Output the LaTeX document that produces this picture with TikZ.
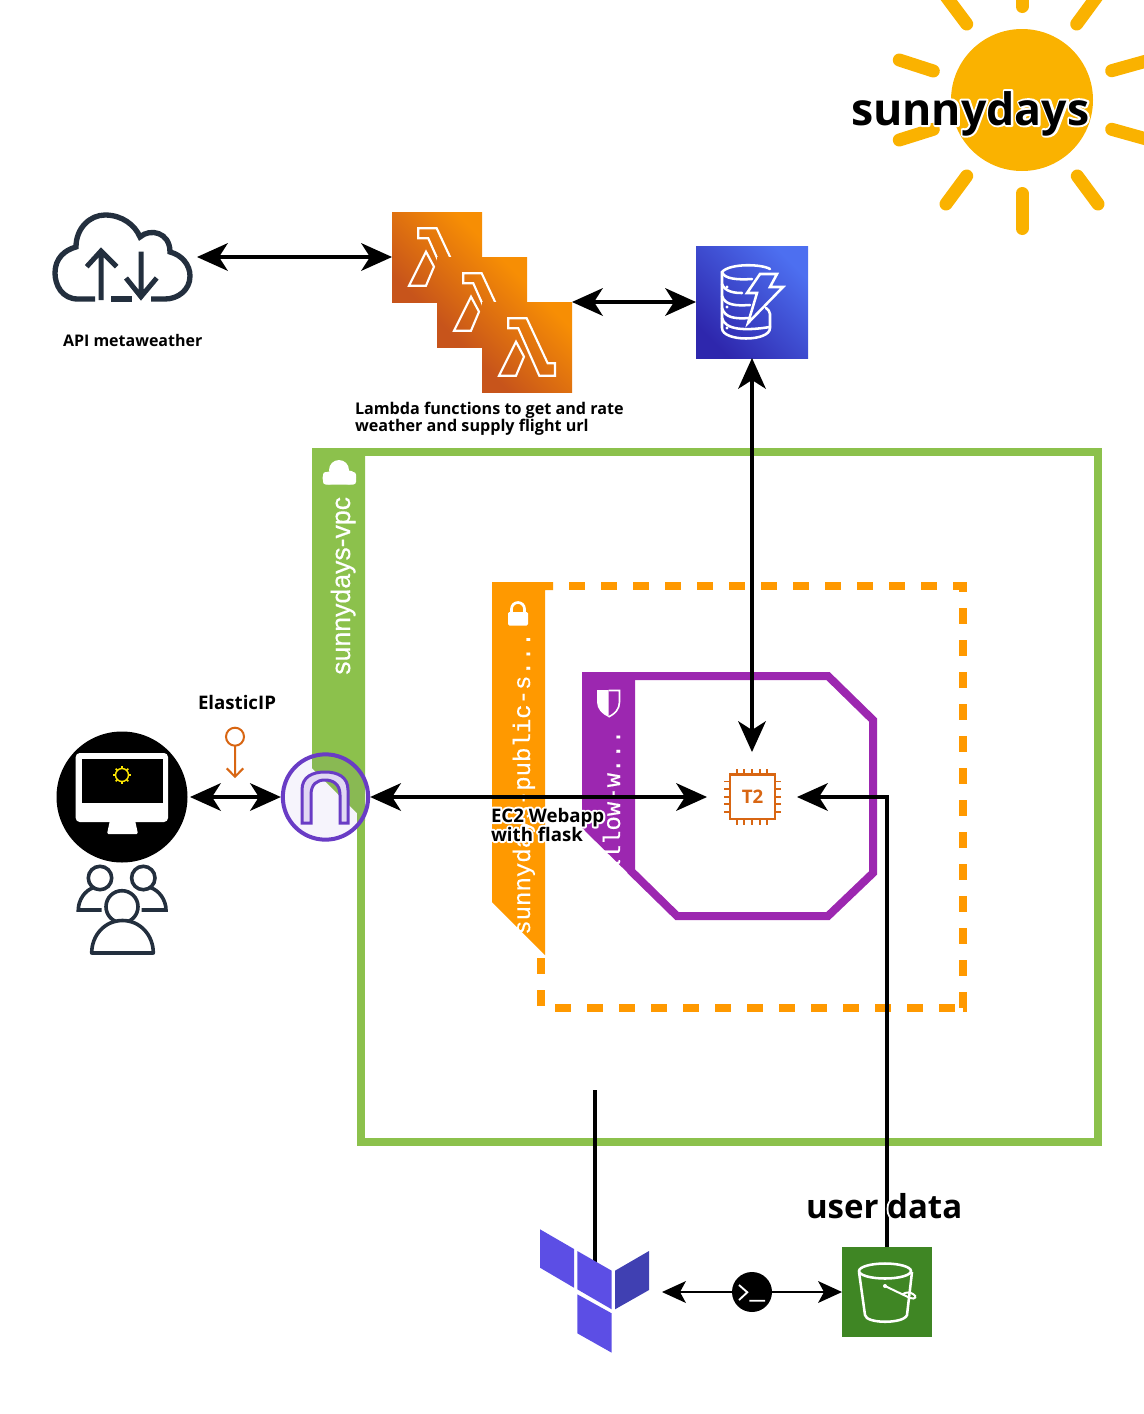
\documentclass[tikz,border=0pt]{standalone}
\usepackage{fontspec}
\setmainfont{Open Sans}
\newfontfamily\monoface[FakeBold=0.3]{Liberation Mono}
\newfontfamily\sansface[FakeBold=0.4]{Liberation Sans}
\usetikzlibrary{arrows.meta,shapes.geometric}
\definecolor{vpcgreen}{HTML}{8CC14C}
\definecolor{subnetorange}{HTML}{FF9900}
\definecolor{sgpurple}{HTML}{9C27B0}
\definecolor{awsorange}{HTML}{D86613}
\definecolor{awsdark}{HTML}{232F3E}
\definecolor{igwpurple}{HTML}{693CC5}
\definecolor{sunyellow}{HTML}{FAB200}
\definecolor{tfpurple}{HTML}{5C4EE5}
\definecolor{tfdark}{HTML}{4040B2}
\definecolor{lamlow}{HTML}{C7541B}
\definecolor{lamhigh}{HTML}{F78E04}
\definecolor{dynlow}{HTML}{2E27AD}
\definecolor{dynhigh}{HTML}{4D6FF0}
\definecolor{sthreegreen}{HTML}{3F8624}
\newcommand{\halo}[1]{\leavevmode\rlap{\special{pdf:code q 1 Tr 3 w 1 J 1 j 1 1 1 RG}#1\special{pdf:code 0 Tr Q}}#1}
\newcommand{\fs}[1]{\fontsize{#1}{#1}\selectfont}
\tikzset{
 x=.75pt,y=-.75pt,
 bighead/.tip={Stealth[length=23.25pt,width=21pt,inset=6.75pt,line width=0pt]},
 smallhead/.tip={Stealth[length=18pt,width=16.5pt,inset=4.5pt,line width=0pt]},
 biglink/.style={line width=3pt,black},
 smalllink/.style={line width=1.5pt,black},
 iconbox/.style={draw=none,inner sep=0pt,outer sep=0pt,minimum size=#1},
 lambdabox/.style={iconbox=67.5pt,bottom color=lamlow,top color=lamhigh,shading angle=-45},
 dynbox/.style={iconbox=84pt,bottom color=dynlow,top color=dynhigh,shading angle=-45},
 white glyph/.style={draw=white,line width=1.6pt,line join=miter,fill=none},
 dyn glyph/.style={draw=white,line width=1.9pt,line join=miter,fill=none,line cap=round},
 label/.style={inner sep=0pt,outer sep=0pt,text=black},
 rays/.style={draw=sunyellow,line width=9.75pt,line cap=round},
 bandtext/.style={inner sep=0pt,rotate=90,anchor=base west,text=white,font=\monoface\fs{18}},
 ghost/.style={inner sep=0pt,outer sep=0pt},
 tfblock/.style={fill=tfpurple,draw=none},
 pin/.style={draw=awsorange,line width=1.4pt},
 usericon/.style={draw=awsdark,line width=2.7pt,fill=none},
 subnetdash/.style={subnetorange,line width=6pt,dash pattern=on 12pt off 12pt},
}
\begin{document}
\begin{tikzpicture}
\useasboundingbox (0,0) rectangle (1144,1414);
% sun
\fill[sunyellow] (1022,100) circle[radius=71];
\foreach \xa/\ya/\xb/\yb in {1022/193.5/1022/228.5,1022/-10/1022/6.5,966.7/24/945/-5,1076.7/24/1098/-5,933.3/71/899.3/60,933.3/129.3/899.3/140,966.7/176/946/204,1077.3/176/1098/204,1111.7/70.7/1150/60,1111.7/129.3/1150/140}
 \draw[rays] (\xa,\ya) -- (\xb,\yb);
% VPC
\draw[vpcgreen,line width=6pt] (312,452) -- (1098,452) -- (1098,1142) -- (361,1142) -- (361,800);
\fill[vpcgreen] (312,448) -- (365,448) -- (365,821) -- (312,768) -- cycle;
\fill[white] (329,478) circle[radius=6.5];
\fill[white] (349,477.5) circle[radius=7];
\fill[white] (339,470) circle[radius=10];
\fill[white,rounded corners=2pt] (323,472) rectangle (356,484.5);
\node[bandtext,font=\sansface\fs{20}] (vpclabel) at (350,675) {sunnydays-vpc};
% subnet
\draw[subnetdash] (569,586) -- (967,586);
\draw[subnetdash] (963,590) -- (963,592);
\draw[subnetdash] (963,608) -- (963,1008);
\fill[subnetorange] (963,1008) rectangle (967,1012);
\draw[subnetdash] (555,1008) -- (955,1008);
\draw[subnetdash] (541,958) -- (541,1006);
\fill[subnetorange] (492,582) -- (553,582) -- (553,590) -- (545,590) -- (545,955) -- (492,902) -- cycle;
\fill[white,rounded corners=1pt] (508,612) rectangle (528,625.5);
\draw[white,line width=2pt] (511.5,613) -- (511.5,609) arc[start angle=180,end angle=360,radius=6.5] -- (524.5,613);
\node[bandtext] (subnetlabel) at (530,935) {sunnydays-public-s...};
% security group
\fill[sgpurple] (582,672) -- (635,672) -- (635,880) -- (582,828) -- cycle;
\draw[sgpurple,line width=6pt,line join=miter] (630,676) -- (828,676) -- (873,720) -- (873,873) -- (828,916) -- (677,916) -- (630,870);
\fill[white] (597,690) -- (608.5,690) -- (608.5,717) .. controls (602,714) and (597,709) .. (597,702) -- cycle;
\draw[white,line width=1.2pt] (608.5,690.5) -- (619.5,690.5) -- (619.5,702) .. controls (619.5,709) and (615,714) .. (608.5,717);
\node[bandtext] (sglabel) at (620,874) {allow-w...};
% lambdas
\foreach \nm/\cx/\cy in {lamone/437/257,lamtwo/482/302,lamthree/527/347}{
 \node[lambdabox] (\nm) at (\cx,\cy) {};
 \begin{scope}[shift={(\cx,\cy)}]
  \draw[white glyph] (-18.7,-28.7) -- (-0.3,-28.7) -- (20.7,16.3) -- (28,16.3) -- (28,28.7) -- (12.3,28.7) -- (-8.7,-18.7) -- (-18.7,-18.7) -- cycle;
  \draw[white glyph] (-28,28.7) -- (-11,28.7) -- (-3,9.7) -- (-11,-5.3) -- cycle;
 \end{scope}
}
% dynamodb
\node[dynbox] (dyn) at (752,302) {};
\draw[dyn glyph] (770,269) .. controls (762,264) and (730,263) .. (722,272) -- (722,328) .. controls (722,342) and (770,342) .. (770,328) -- (770,314) .. controls (770,311) and (768,310) .. (766,308);
\draw[dyn glyph] (722,272) .. controls (724,279) and (738,280) .. (752,279);
\draw[dyn glyph] (722,284) .. controls (725,292) and (735,293) .. (742,293);
\draw[dyn glyph] (722,296) .. controls (725,305) and (735,306) .. (750,305);
\draw[dyn glyph] (722,308) .. controls (725,318) and (735,319) .. (750,318);
\draw[dyn glyph] (722,318) .. controls (725,330) and (745,331) .. (770,327);
\fill[white] (727,287) circle[radius=1.7];
\fill[white] (727,307) circle[radius=1.7];
\fill[white] (727,328) circle[radius=1.7];
\draw[dyn glyph,line join=miter] (760,274) -- (777,274) -- (770,287) -- (783,287) -- (748,323) -- (757,293) -- (747,293) -- cycle;
% API cloud
\node[ghost,minimum width=112.5pt,minimum height=75pt] (cloud) at (122,257) {};
\draw[awsdark,line width=4pt,line cap=butt] (95,299) -- (78,299) .. controls (62,299) and (55,285) .. (55,273) .. controls (55,258) and (65,250) .. (76,247) .. controls (76,228) and (90,215) .. (105,215) .. controls (122,215) and (135,225) .. (140,237) .. controls (150,228) and (170,232) .. (170,252) .. controls (182,255) and (190,265) .. (190,276) .. controls (190,290) and (178,299) .. (165,299) -- (151,299);
\draw[awsdark,line width=4pt] (111,299) -- (132,299);
\draw[awsdark,line width=3.75pt] (101,300) -- (101,251) (86.7,266.7) -- (101,251) -- (116.7,266.7);
\draw[awsdark,line width=3.75pt] (141,251.7) -- (141,296.7) (126,278) -- (141,296.7) -- (156.7,278);
% monitor
\node[circle,fill=black,inner sep=0pt,minimum size=98.25pt,outer sep=1.9pt] (monitor) at (122,797) {};
\fill[white,rounded corners=3pt] (75.7,753) rectangle (168,822);
\fill[black] (81.7,759) rectangle (163,803);
\fill[white,rounded corners=1pt] (110,820) -- (135,820) -- (138,834) -- (107,834) -- cycle;
\draw[yellow!90!orange,line width=1.1pt] (122,775) circle[radius=6.5];
\foreach \a in {0,45,...,315} \draw[yellow!90!orange,line width=1.3pt] ([shift={(122,775)}]\a:6.5) -- ([shift={(122,775)}]\a:9);
% users
\draw[usericon] (100,878) circle[radius=11.7];
\draw[usericon] (143.3,878) circle[radius=11.7];
\draw[usericon,line cap=butt] (101.7,910) -- (78.3,910) .. controls (78.3,900) and (85,890) .. (94,887.5);
\draw[usericon,line cap=butt] (141.7,910) -- (166,910) .. controls (166,900) and (159,890) .. (150,887.5);
\draw[usericon,fill=white] (122,906.7) circle[radius=16];
\draw[usericon,fill=white,line join=round] (91.7,953) .. controls (91.7,935) and (105,920.5) .. (122.5,920.5) .. controls (140,920.5) and (153.3,935) .. (153.3,953) -- cycle;
% elastic IP
\coordinate (eiptop) at (235,745.7);
\coordinate (eipend) at (235,776.7);
\draw[awsorange,line width=1.5pt] (235,736.7) circle[radius=9];
\draw[awsorange,line width=1.5pt] (eiptop) -- (eipend) (226.7,768.3) -- (eipend) -- (243.3,768.3);
% T2 instance
\node[ghost,minimum size=67.5pt] (ec2) at (752,797) {};
\draw[awsorange,line width=1.6pt] (730,774.5) rectangle (775,819);
\foreach \d in {-15.2,-7.6,0,7.6,15.2}{
 \draw[pin] (752+\d,774) -- (752+\d,768.5) (752+\d,819) -- (752+\d,825);
 \draw[pin] (730,796.7+\d) -- (724,796.7+\d) (775,796.7+\d) -- (781,796.7+\d);
}
\node[ghost,text=awsorange,font=\bfseries\fs{14}] (t2label) at (752.5,797) {T2};
% IGW
\node[circle,draw=igwpurple,line width=3pt,fill=igwpurple,fill opacity=.06,inner sep=0pt,minimum size=64pt,outer sep=1.5pt] (igw) at (325.5,797) {};
\draw[igwpurple,line width=2.25pt,fill=igwpurple!20!white,line join=miter] (302,823) -- (302,790) .. controls (302,777) and (312,772) .. (325,772) .. controls (338,772) and (348,777) .. (348,790) -- (348,823) -- (340,823) -- (340,795) .. controls (340,784) and (333,780) .. (325,780) .. controls (317,780) and (311,784) .. (311,795) -- (311,823) -- cycle;
% s3
\node[iconbox=67.5pt,fill=sthreegreen] (sthree) at (887,1292) {};
\draw[white,line width=1.9pt] (885,1271) ellipse[x radius=26,y radius=7.5];
\draw[white,line width=1.9pt] (859,1272) -- (865,1315) .. controls (866,1324) and (904,1324) .. (907,1315) -- (912,1272);
\fill[white] (885,1286) circle[radius=2];
\draw[white,line width=1.5pt] (885,1286) -- (910,1298) .. controls (916,1300) and (917,1296) .. (913,1294) .. controls (910,1292) and (906,1292) .. (903,1294);
% terraform
\coordinate (tftop) at (595,1090);
\coordinate (tfjoin) at (595,1262);
\node[ghost,minimum width=100.5pt,minimum height=90pt] (tform) at (595,1291) {};
\draw[biglink] (tftop) -- (tfjoin);
\fill[tfblock] (540,1229.3) -- (574,1249) -- (574,1287.7) -- (540,1267.7) -- cycle;
\fill[tfblock] (577.3,1251) -- (611.7,1270.7) -- (611.7,1309.3) -- (577.3,1289.3) -- cycle;
\fill[tfdark] (615,1270.7) -- (649,1251) -- (649,1290) -- (615,1309.3) -- cycle;
\fill[tfblock] (577.3,1294.3) -- (611.7,1313.3) -- (611.7,1352.7) -- (577.3,1333.3) -- cycle;
% terminal
\node[circle,fill=black,inner sep=0pt,minimum size=30pt,outer sep=0pt] (term) at (752,1292) {};
\draw[white,line width=1.4pt] (739,1285) -- (747.3,1292.3) -- (739,1300) (749.3,1300.7) -- (765,1300.7);
% connectors
\draw[biglink,{bighead}-{bighead}] (cloud.east) -- (lamone.west);
\draw[biglink,{bighead}-{bighead}] (lamthree.north east) -- (dyn.west);
\draw[biglink,{bighead}-{bighead}] (dyn.south) -- (ec2.north);
\draw[biglink,{bighead}-{bighead}] (monitor.east) -- (igw.west);
\draw[biglink,{bighead}-{bighead}] (igw.east) -- (ec2.west);
\draw[biglink,-{bighead}] (sthree.north) |- (ec2.east);
\draw[smalllink,-{smallhead}] (term.west) -- (term.west -| tform.east);
\draw[smalllink,-{smallhead}] (term.east) -- (sthree.west);
% labels
\node[label,anchor=base west,font=\bfseries\fs{33.5}] (title) at (851,125) {\halo{sunnydays}};
\node[label,anchor=base west,font=\bfseries\fs{12}] (apilabel) at (63,346.5) {API metaweather};
\node[label,anchor=base west,font=\bfseries\fs{12.1}] (lambdaa) at (355,414) {Lambda functions to get and rate};
\node[label,anchor=base west,font=\bfseries\fs{12.1}] (lambdab) at (355,431) {weather and supply flight url};
\node[label,anchor=base west,font=\bfseries\fs{14}] (eiplabel) at (198,709) {ElasticIP};
\node[label,anchor=base west,font=\bfseries\fs{14}] (weba) at (491,822) {\halo{EC2 Webapp}};
\node[label,anchor=base west,font=\bfseries\fs{14}] (webb) at (491,841) {\halo{with flask}};
\node[label,anchor=base west,font=\bfseries\fs{24.75}] (userdata) at (806,1218) {\halo{user data}};
\end{tikzpicture}
\end{document}
